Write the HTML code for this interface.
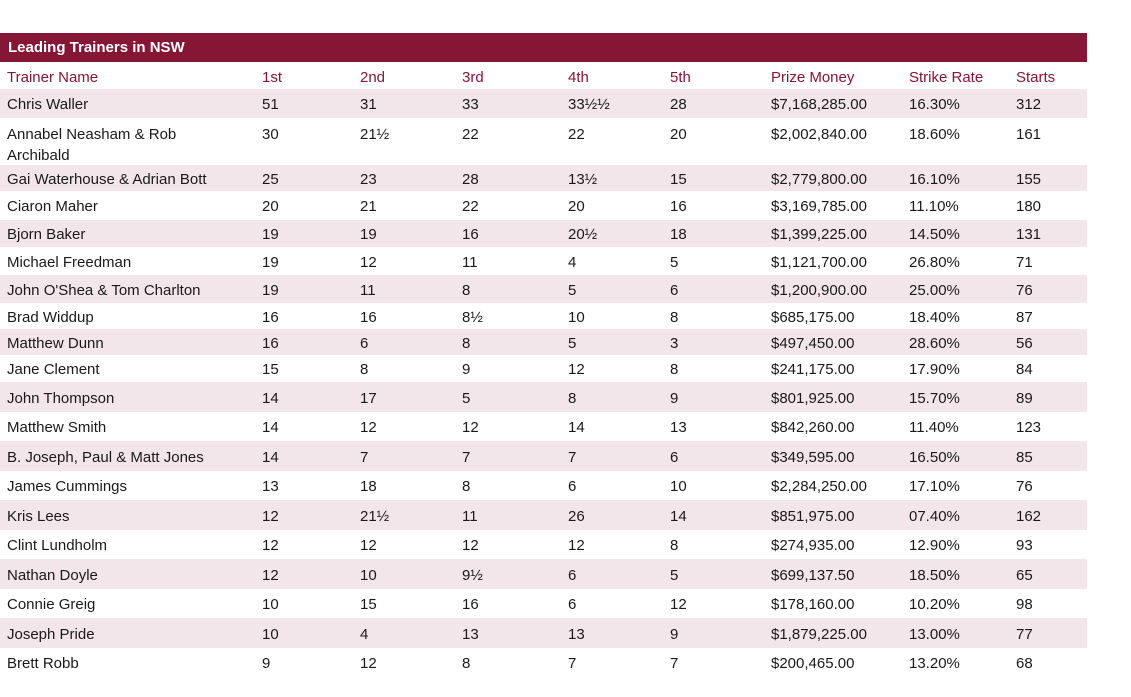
<!DOCTYPE html>
<html><head><meta charset="utf-8"><style>
body{margin:0;width:1131px;height:697px;background:#fff;font-family:"Liberation Sans",sans-serif;position:relative;overflow:hidden}
.bar{position:absolute;left:0;top:33px;width:1087px;height:29px;background:#861636;color:#fff;font-weight:bold;font-size:15px;line-height:29px;padding-left:8px;box-sizing:border-box}
.r{position:absolute;left:0;width:1087px}
.s{background:#f2e6ea}
.c{position:absolute;font-size:15px;color:#1a1a1a;white-space:nowrap;line-height:20px}
.h .c{color:#861636}
</style></head><body>
<div class="bar">Leading Trainers in NSW</div>
<div id="t"></div>
<script>
var rows=[
["Trainer Name","1st","2nd","3rd","4th","5th","Prize Money","Strike Rate","Starts"],
["Chris Waller","51","31","33","33½½","28","$7,168,285.00","16.30%","312"],
["Annabel Neasham & Rob<br>Archibald","30","21½","22","22","20","$2,002,840.00","18.60%","161"],
["Gai Waterhouse & Adrian Bott","25","23","28","13½","15","$2,779,800.00","16.10%","155"],
["Ciaron Maher","20","21","22","20","16","$3,169,785.00","11.10%","180"],
["Bjorn Baker","19","19","16","20½","18","$1,399,225.00","14.50%","131"],
["Michael Freedman","19","12","11","4","5","$1,121,700.00","26.80%","71"],
["John O'Shea & Tom Charlton","19","11","8","5","6","$1,200,900.00","25.00%","76"],
["Brad Widdup","16","16","8½","10","8","$685,175.00","18.40%","87"],
["Matthew Dunn","16","6","8","5","3","$497,450.00","28.60%","56"],
["Jane Clement","15","8","9","12","8","$241,175.00","17.90%","84"],
["John Thompson","14","17","5","8","9","$801,925.00","15.70%","89"],
["Matthew Smith","14","12","12","14","13","$842,260.00","11.40%","123"],
["B. Joseph, Paul & Matt Jones","14","7","7","7","6","$349,595.00","16.50%","85"],
["James Cummings","13","18","8","6","10","$2,284,250.00","17.10%","76"],
["Kris Lees","12","21½","11","26","14","$851,975.00","07.40%","162"],
["Clint Lundholm","12","12","12","12","8","$274,935.00","12.90%","93"],
["Nathan Doyle","12","10","9½","6","5","$699,137.50","18.50%","65"],
["Connie Greig","10","15","16","6","12","$178,160.00","10.20%","98"],
["Joseph Pride","10","4","13","13","9","$1,879,225.00","13.00%","77"],
["Brett Robb","9","12","8","7","7","$200,465.00","13.20%","68"]];
var b=[63,89,118,165,191,220,247,275,303,329,355,382,412,441,471,500,530,559,589,618,648,677];
var xs=[7,262,360,462,568,670,771,909,1016];
var h="";
rows.forEach(function(r,i){
 var top=b[i],ht=b[i+1]-top;
 var cls="r"+(i==0?" h":"")+(i>0&&i%2==1?" s":"");
 h+='<div class="'+cls+'" style="top:'+top+'px;height:'+ht+'px">';
 r.forEach(function(v,j){
  var tt=(i==2)?6:(ht-20)/2+1.5;
  var lh=(i==2)?'line-height:21px;':'';
  h+='<div class="c" style="left:'+xs[j]+'px;top:'+tt+'px;'+lh+'">'+v+'</div>';
 });
 h+='</div>';
});
document.getElementById("t").innerHTML=h;
</script>
</body></html>
